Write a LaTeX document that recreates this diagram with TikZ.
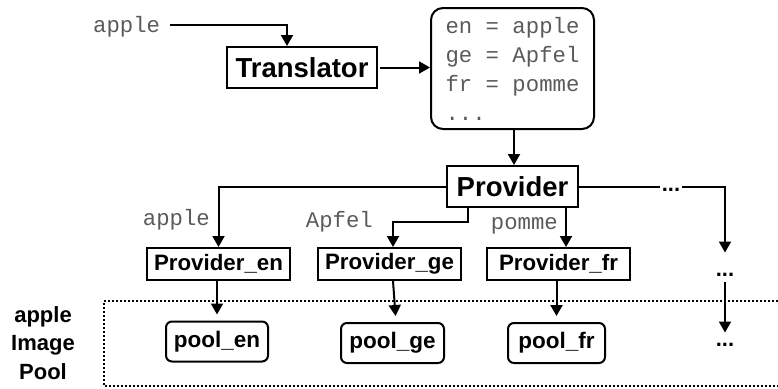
\documentclass[tikz,border=0pt]{standalone}
\usepackage{fontspec}
\setmainfont{Liberation Sans}
\newfontfamily\monof{Liberation Mono}
\usetikzlibrary{arrows.meta}
\definecolor{monogray}{HTML}{5A5A5A}
\begin{document}
\begin{tikzpicture}[x=1pt,y=-1pt,
  arr/.style={line width=2pt,-{Triangle[width=12pt,length=11pt]}},
  conn/.style={line width=2pt},
  bigbox/.style={draw,line width=2pt,inner sep=0pt,font=\bfseries\fontsize{27.5}{30}\selectfont},
  provbox/.style={draw,line width=2pt,inner sep=0pt,minimum width=143pt,minimum height=32pt,font=\bfseries\fontsize{22.3}{26}\selectfont},
  poolbox/.style={draw,line width=2pt,rounded corners=6pt,inner sep=0pt,minimum height=40pt,font=\bfseries\fontsize{22.5}{26}\selectfont},
  dictbox/.style={draw,line width=2pt,rounded corners=12pt,inner sep=0pt,align=left,text=monogray,font=\monof\fontsize{22.3}{29}\selectfont},
  monolab/.style={inner sep=0pt,text=monogray,font=\monof\fontsize{22.3}{26}\selectfont},
  dotlab/.style={inner sep=2pt,font=\bfseries\fontsize{22}{26}\selectfont},
  pooltext/.style={inner sep=0pt,align=center,font=\bfseries\fontsize{22}{28.5}\selectfont}
]
\useasboundingbox (0,0) rectangle (778,388);
\clip (0,0) rectangle (778,388);

% top
\node[monolab,anchor=base west] (inapple) at (93,32) {apple};
\node[bigbox,minimum width=150pt,minimum height=41pt] (tr) at (302,67.5) {Translator};
\node[dictbox,minimum width=163pt,minimum height=121pt] (dict) at (512.5,68.5) {en = apple\\ge = Apfel\\fr = pomme\\...};
\node[bigbox,minimum width=131pt,minimum height=41pt] (prov) at (512.5,186.5) {Provider};

% providers
\node[provbox] (pen) at (218.5,264) {Provider\_en};
\node[provbox] (pge) at (389.5,264) {Provider\_ge};
\node[provbox] (pfr) at (558.5,264) {Provider\_fr};
\node[dotlab,anchor=base] (dotsA) at (725,276) {...};

% labels
\node[monolab,anchor=base east] (lapple) at (210,225) {apple};
\node[monolab,anchor=base east] (lapfel) at (373,227) {Apfel};
\node[monolab,anchor=base east] (lpomme) at (558,229) {pomme};

% pools
\draw[line width=2pt,dash pattern=on 2pt off 2pt] (790,301) -- (104,301) -- (104,386) -- (790,386);
\node[pooltext] (plabel) at (43,343) {apple\\Image\\Pool};
\node[poolbox,minimum width=102pt] (poen) at (217,341.5) {pool\_en};
\node[poolbox,minimum width=103pt] (poge) at (392.5,343) {pool\_ge};
\node[poolbox,minimum width=97pt] (pofr) at (556.5,343) {pool\_fr};
\node[dotlab,anchor=base] (dotsB) at (725,346) {...};

% connectors
\draw[arr] ([xshift=10pt]inapple.east |- 0,25) -| ([xshift=-15pt]tr.north);
\draw[arr] ([xshift=1.5pt]tr.east) -- (tr.east -| dict.west);
\draw[arr] ([xshift=1.5pt]dict.south) -- ([xshift=1.5pt]prov.north);
\draw[arr] ([xshift=1.5pt]prov.west) -| (pen.north);
\draw[arr] ([xshift=-44.5pt]prov.south) |- ([xshift=3.5pt,yshift=25pt]pge.north) -- ([xshift=3.5pt]pge.north);
\draw[arr] ([xshift=53.5pt]prov.south) -- ([xshift=7.5pt]pfr.north);
\node[dotlab,anchor=base] (dotsT) at (671,191) {...};
\draw[conn] (prov.east) -- (dotsT.west |- prov.east);
\draw[arr] (dotsT.east |- prov.east) -| ([yshift=18pt]dotsA.north);

\draw[arr,shorten >=6pt] (pen.south -| poen.north) -- (poen.north);
\draw[arr,shorten >=6pt] ([xshift=3.5pt]pge.south) -- ([xshift=3.5pt]poge.north);
\draw[arr,shorten >=6pt] (pfr.south -| pofr.north) -- (pofr.north);
\draw[arr] ([yshift=-4pt]dotsA.south) -- ([yshift=8pt]dotsB.north);
\end{tikzpicture}
\end{document}
